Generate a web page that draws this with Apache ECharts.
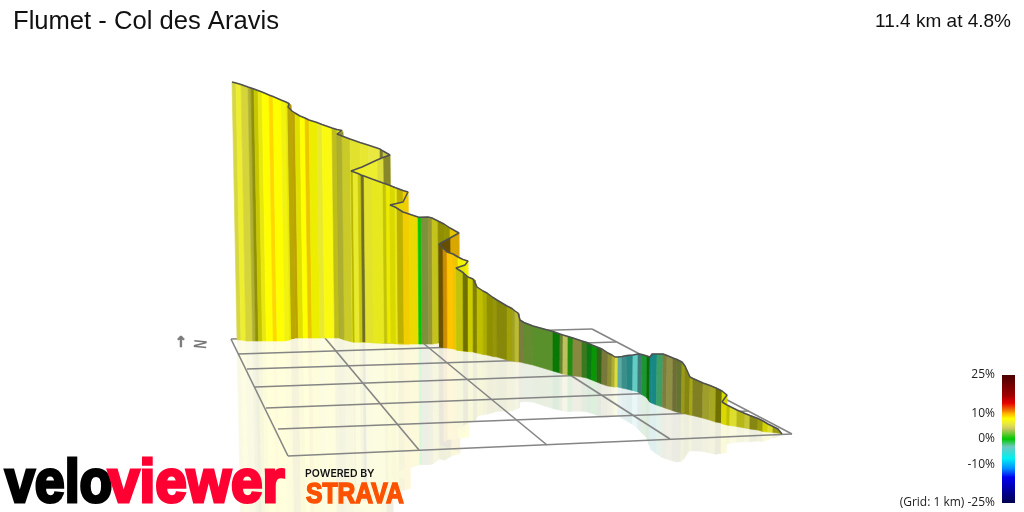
<!DOCTYPE html>
<html>
<head>
<meta charset="utf-8">
<title>Flumet - Col des Aravis</title>
<style>html,body{margin:0;padding:0;background:#fff}#chart{width:1024px;height:512px}</style>
<script src="https://cdn.jsdelivr.net/npm/echarts@6/dist/echarts.min.js"></script>
</head>
<body>
<div id="chart"></div>
<script>
const titleText = 'Flumet - Col des Aravis';
const summaryText = '11.4 km at 4.8%';
const scaleLabels = ['25%', '10%', '0%', '-10%', '(Grid: 1 km) -25%'];
const scaleLabelValues = [25, 10, 0, -10, -25];

// Profile stations, in the picture's own projected units
const stationX = [
  232,236,241,248,251,254,258,262,269,273,281,286,289,291,288,292,295,300,305,309,
  317,322,332,337,342,343,337,342,350,360,368,380,383,390,383,377,362,351,353,358,
  361,364,372,383,386,390,395,397,403,408,403,390,395,397,403,409,418,421,428,432,
  438,444,450,459,450,439,443,447,453,458,463,468,465,456,463,468,473,475,477,483,
  487,493,497,507,512,515,518,519,520,524,533,553,560,563,568,573,582,587,592,597,
  602,608,612,615,618,622,627,633,638,642,647,650,652,657,663,667,673,677,682,685,
  690,693,703,710,716,722,727,722,727,730,737,745,750,758,763,768,773,778,782
];
const wallTop = [
  82,83,84.5,87,88,89,90.5,92,95,96.5,100,102,103.5,105,107,111,113,116,118,120,
  122.5,124.5,128,129.5,130.5,132,134,136,139,142.5,145,149,151,155,157.5,160,167,171,172,173.5,
  175,176,179,183,184,185.5,187.5,188.5,190.5,192,202,205,207,208,212,214,217,217.2,217,218,
  221,224,228,233,238,244,248,252,254,257,259.5,261,265,268,272.5,277,279,280,287,291,
  293,297.5,300,306,308.5,311,313,313.5,320,322.5,326,331.5,334,335,336.5,338,341,342.5,345,347,
  349,353,355,357,357,356.5,355.5,355,354,354.5,356,357,354,354,354,355.5,358,359.5,362,366,
  377,378.5,383,385.5,388,391,395,402,405,406.5,410,413.5,415.5,418.5,421,424,426.5,429,434
];
const wallBase = [
  340,340,341,341,341,341,341,341,341,341,341,340,338.5,338,338.5,338,338,338,338,338,
  338,338,338,338,338,338,338,340,342,342,342,343,343,343,343,343,342,342,342,342,
  342,342,343,343,343,343,344,344,344,344,344,343,343,343,343.5,344,344,344,344,344,
  343,345,345,346,346,347,347.5,348,349,350,351,351,351,350,351,351.5,352,352.5,353,354.5,
  355,356.5,357,360,361,361.5,362,362,362,363,365,371,373,374,375,375.5,377,378,380,382,
  384,386,386.5,387,387,388,389,390.5,392,394.5,397.5,402,403,405,407,408.5,410.5,412,413,413.5,
  415,415.5,418,420,422,423,424.5,423.5,425,425.5,426.5,428,429,430,431.5,432,432.5,433,434
];
// Gradient (%) of the strip that ends at each station
const stationGrade = [
  8,5.5,6.5,6,6,7.5,8,7.5,8,9,8,7.5,8,9,9,8.5,9,8,8,9,
  8,6.5,7.5,7,6.5,6.5,5,6,6.5,6.5,6.5,6,5,5.5,5.5,6,6.5,7,8,6.5,
  7.5,5,6.5,7,7.5,8,8,7,8.5,9,9,8.5,8,7,8.5,9,8.5,0,3.5,5,
  7,8,8,9,9.5,9.5,9.5,10,9.5,9,8,8,8,8,7.5,8,8,8,8,8,
  8,8,7.5,7.5,7.5,6.5,6,6,4.5,4,2.8,2.5,0.3,3,4,1,4,2,-0.5,0.2,
  2,4,5,6,6,-3,-4,-5,-3.5,-3.5,-1,0.2,-6,-6,-2,4,4,4,3.5,7,
  7,7,6,6,6.5,8,8,8,8,8,6.5,7,6,7,7.5,8,6.5,7,8
];
// Facing-light level of the strip that ends at each station
const stationShade = [
  1,.95,1,.92,.76,.58,.78,.93,1,1,1,.97,.9,.62,.7,.72,.75,.88,1,.92,
  .93,.98,1,.78,.93,.9,.65,.75,.85,.95,.97,1,.55,.88,.6,.95,1,.98,.72,.98,
  .8,.5,.95,.95,.78,.92,.85,.95,.75,.95,.95,.9,.85,.95,.75,.95,.92,1,.72,.68,
  .8,.56,.58,.9,.85,.4,.42,.8,1,.92,.95,.97,.95,.9,.78,.44,.8,.5,.5,.75,
  .68,.56,.6,.54,.64,.68,.8,.85,.6,.62,.7,.72,.6,.66,.96,.7,.68,.6,.6,.75,
  .5,.6,.65,.75,.95,.85,.68,.62,1,.6,.75,.55,.58,.6,.8,.63,.72,.55,.58,.63,
  .55,.68,.55,.68,.7,.44,.85,.85,.85,.75,.93,.75,.85,.55,.63,.82,.93,.63,.6
];
// Colour scale of the legend: gradient % and its colour
const scaleValues = [-25,-15,-11.5,-7.6,-3,0,2,4,5,6,7,8,9,10,11,14,17,25];
const scaleColours = ['#000050','#0000f0','#0090ff','#00f0f0','#70c8c0','#00c800','#64c830','#c8c860','#dcdc50','#e8e840','#f4f420','#ffff00','#ffd800','#ffb000','#f08000','#e80000','#a00000','#4a0000'];
// Floor grid: the ends of each line
const gridRowStarts = [[231,339],[238,354],[247,369],[255,387],[266,408],[278,429],[288,456]];
const gridRowEnds = [[592,329],[616,342],[645,356.5],[674,372],[711,391],[749,411],[792,434]];
const gridColumnStarts = [[231,339],[325,338],[423,343],[503,332],[592,329]];
const gridColumnEnds = [[288,456],[419,450],[547,445],[670,439],[792,434]];

const hex = c => [1,3,5].map(i => parseInt(c.substr(i,2),16));
function gradeRgb(g){
  let i = 0;
  while (i < scaleValues.length-2 && g > scaleValues[i+1]) i++;
  const t = Math.max(0, Math.min(1, (g-scaleValues[i])/(scaleValues[i+1]-scaleValues[i])));
  const a = hex(scaleColours[i]), b = hex(scaleColours[i+1]);
  return a.map((v,k)=>v+(b[k]-v)*t);
}
const rgb = c => 'rgb('+c.map(v=>Math.round(v)).join(',')+')';
const wallColour = i => rgb(gradeRgb(stationGrade[i]).map(v=>v*stationShade[i]));
const mirrorColour = i => rgb(gradeRgb(stationGrade[i]).map(v=>255+(v*stationShade[i]-255)*0.14));
const leanOf = i => (512-stationX[i])*(wallBase[i]-wallTop[i])*7e-5;
const mirrorFactor = 0.95;

const wallData = [], mirrorData = [];
for (let i = 1; i < stationX.length; i++){
  const l0 = leanOf(i-1), l1 = leanOf(i);
  const bx0 = stationX[i-1]+l0, bx1 = stationX[i]+l1;
  wallData.push({value:[stationX[i-1],wallTop[i-1],stationX[i],wallTop[i],bx1,wallBase[i],bx0,wallBase[i-1]],itemStyle:{color:wallColour(i)}});
  const my0 = wallBase[i-1]+(wallBase[i-1]-wallTop[i-1])*mirrorFactor;
  const my1 = wallBase[i]+(wallBase[i]-wallTop[i])*mirrorFactor;
  mirrorData.push({value:[bx0,wallBase[i-1],bx1,wallBase[i],bx1+l1,my1,bx0+l0,my0],itemStyle:{color:mirrorColour(i)}});
}
function stripItem(params, api){
  const pts = [0,2,4,6].map(k=>api.coord([api.value(k),api.value(k+1)]));
  const c = api.visual('color');
  return {type:'polygon',shape:{points:pts},style:{fill:c,stroke:c,lineWidth:0.6}};
}
function stripSeries(name,data,z){
  return {name,type:'custom',z,renderItem:stripItem,data,animation:false,silent:true,clip:false,
    encode:{x:[0,2,4,6],y:[1,3,5,7]}};
}
const lineStyleGrid = {color:'#858585',width:1.6};
const gridLines = [];
gridRowStarts.forEach((p,i)=>gridLines.push([p,gridRowEnds[i]]));
gridColumnStarts.forEach((p,i)=>gridLines.push([p,gridColumnEnds[i]]));
const gridSeries = gridLines.map(d=>({type:'line',z:2,data:d,symbol:'none',silent:true,animation:false,lineStyle:lineStyleGrid}));

const scaleStops = scaleValues.map((v,i)=>({offset:(25-v)/50,color:scaleColours[i]})).reverse();
const barTop = 375, barHeight = 128;
const labelFont = '12px "Open Sans"';
const graphics = [
  {type:'rect',z:50,shape:{x:1002,y:barTop,width:13,height:barHeight},style:{fill:new echarts.graphic.LinearGradient(0,0,0,1,scaleStops)}},
  {type:'text',z:50,x:181,y:343,style:{text:'↑',font:'bold 15px "DejaVu Sans"',fill:'#777',stroke:'#777',lineWidth:0.6,align:'center',verticalAlign:'middle'}},
  {type:'text',z:50,x:199,y:344,rotation:-Math.PI/2-0.1,scaleX:0.8,scaleY:1.2,style:{text:'N',font:'bold 15px "Liberation Sans"',fill:'#777',align:'center',verticalAlign:'middle'}},
  {type:'text',z:50,x:5,y:485,scaleX:0.88,style:{text:'velo',font:'bold 61px "Liberation Sans"',fill:'#000',stroke:'#000',lineWidth:3.2,verticalAlign:'middle'}},
  {type:'text',z:50,x:108,y:485,scaleX:0.93,style:{text:'viewer',font:'bold 61px "Liberation Sans"',fill:'#ff0033',stroke:'#ff0033',lineWidth:3.2,verticalAlign:'middle'}},
  {type:'text',z:50,x:305,y:474,style:{text:'POWERED BY',font:'600 10.5px Inter',fill:'#111',verticalAlign:'middle'}},
  {type:'text',z:50,x:306,y:495,scaleX:0.85,style:{text:'STRAVA',font:'bold 29px "Liberation Sans"',fill:'#fc5200',stroke:'#fc5200',lineWidth:1.6,verticalAlign:'middle'}}
];
scaleLabels.forEach((t,i)=>graphics.push({type:'text',z:50,x:995,y:barTop+(25-scaleLabelValues[i])/50*barHeight,
  style:{text:t,font:labelFont,fill:'#222',align:'right',verticalAlign:'middle'}}));

const chart = echarts.init(document.getElementById('chart'),null,{renderer:'canvas'});
chart.setOption({
  animation:false,
  backgroundColor:'#fff',
  title:[
    {text:titleText,left:8,top:4,textStyle:{fontFamily:'Liberation Sans',fontSize:25.6,fontWeight:'normal',color:'#111'}},
    {text:summaryText,right:8,top:7,textStyle:{fontFamily:'Liberation Sans',fontSize:19,fontWeight:'normal',color:'#111'}}
  ],
  grid:{left:0,right:0,top:0,bottom:0},
  xAxis:{type:'value',min:0,max:1024,show:false},
  yAxis:{type:'value',min:0,max:512,inverse:true,show:false},
  series:[
    stripSeries('reflection',mirrorData,1),
    ...gridSeries,
    stripSeries('wall',wallData,3),
    {name:'profile',type:'line',z:4,symbol:'none',silent:true,animation:false,
      data:stationX.map((x,i)=>[x,wallTop[i]]),lineStyle:{color:'#505050',width:1.5}}
  ],
  graphic:{elements:graphics}
});
</script>
</body>
</html>
